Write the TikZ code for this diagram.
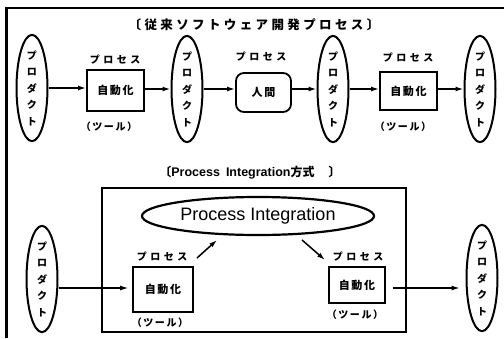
\documentclass[tikz,border=0pt]{standalone}
\usepackage{fontspec}
\setmainfont{Liberation Sans}
\newfontfamily\jp{Noto Sans CJK JP}
\usetikzlibrary{arrows.meta,shapes.geometric}

% Japanese text faces
\newcommand{\jpsp}[2]{\jp\bfseries\fontsize{#1}{#1}\selectfont\addfontfeatures{LetterSpace=#2}}
\newcommand{\jpcol}{\jp\bfseries\fontsize{10}{16.5}\selectfont}

\tikzset{
  product/.style={ellipse, draw, line width=2pt, minimum width=31pt,
    minimum height=96pt, inner sep=0pt, align=center, font=\jpcol},
  toolbox/.style={rectangle, draw, line width=1.8pt, inner sep=0pt,
    font={\jpsp{11}{15}}},
  procl/.style={font={\jpsp{10}{35}}, inner sep=0pt},
  tooll/.style={font={\jpsp{10}{16}}, inner sep=0pt},
  flow/.style={line width=1.5pt, -{Latex[length=8pt,width=5pt]}},
  thinflow/.style={line width=1.1pt, -{Latex[length=8pt,width=5pt]}},
}

\begin{document}
\begin{tikzpicture}[x=1pt, y=-1pt]
\useasboundingbox (0,0) rectangle (504,338);

% outer frame (top and left edges)
\draw[line width=2.5pt] (6.5,338) -- (6.5,8) -- (504,8);

% ---------- conventional process ----------
\node[inner sep=0pt] (title1) at (254,25)
  {\jpsp{12.5}{27}〔従来ソフトウェア開発プロセス〕};

\node[product] (p1) at (32,88) {プ\\ロ\\ダ\\ク\\ト};
\node[product] (p2) at (187,89) {プ\\ロ\\ダ\\ク\\ト};
\node[product] (p3) at (333,89) {プ\\ロ\\ダ\\ク\\ト};
\node[product] (p4) at (480,89) {プ\\ロ\\ダ\\ク\\ト};

\node[toolbox, minimum width=57pt, minimum height=41pt] (b1) at (115.5,90.5) {自動化};
\node[toolbox, rounded corners=8pt, minimum width=55pt, minimum height=39pt] (h) at (263.5,92.5) {人間};
\node[toolbox, minimum width=57pt, minimum height=38pt] (b3) at (408.5,91) {自動化};

\node[procl] (l1) at (115,60) {プロセス};
\node[procl] (l2) at (261,57) {プロセス};
\node[procl] (l3) at (408,58) {プロセス};
\node[tooll] (t1) at (109,127) {（ツール）};
\node[tooll] (t3) at (403,127) {（ツール）};

\draw[flow] (p1) -- (b1.west |- p1);
\draw[flow] (b1.east |- p2) -- (p2);
\draw[flow] (p2) -- (h.west |- p2);
\draw[flow] (h.east |- p3) -- (p3);
\draw[flow] (p3) -- (b3.west |- p3);
\draw[flow] (b3.east |- p4) -- (p4);

% ---------- Process Integration method ----------
\node[inner sep=0pt] (title2) at (250,173)
  {\jpsp{12}{0}〔\fontspec{Liberation Sans}\bfseries\fontsize{12.5}{12.5}\selectfont Process\hspace{6pt}Integration\jp\bfseries\fontsize{12}{12}\selectfont 方式\hspace{14pt}〕};

\node[draw, line width=2pt, minimum width=304pt, minimum height=144pt, inner sep=0pt] (frame) at (254,260) {};

\node[ellipse, draw, line width=2.2pt, minimum width=232pt, minimum height=38pt,
  inner sep=0pt, font=\fontsize{18}{18}\selectfont] (pi) at (258,216) {Process Integration};

\node[product, minimum height=90pt] (q1) at (42,279) {プ\\ロ\\ダ\\ク\\ト};
\node[product, minimum height=92pt] (q2) at (482,278) {プ\\ロ\\ダ\\ク\\ト};

\node[toolbox, minimum width=60pt, minimum height=45pt] (c1) at (163,289.5) {自動化};
\node[toolbox, minimum width=56pt, minimum height=36pt] (c2) at (357,285) {自動化};

\node[procl] (m1) at (162,257) {プロセス};
\node[procl] (m2) at (358,257) {プロセス};
\node[tooll] (u1) at (160,323) {（ツール）};
\node[tooll] (u2) at (355,315) {（ツール）};

\draw[thinflow, shorten >=4pt] (q1.east |- 0,288) -- (c1.west |- 0,288);
\draw[thinflow, shorten <=7pt, shorten >=6pt] (c2.east |- 0,288) -- (q2.west |- 0,288);

% arrows between the central process and the tools
\coordinate (d1s) at (197,258);
\coordinate (d1e) at (217,240);
\coordinate (d2s) at (302,240);
\coordinate (d2e) at (325,260);
\draw[flow] (d1s) -- (d1e);
\draw[flow] (d2s) -- (d2e);
\end{tikzpicture}
\end{document}
